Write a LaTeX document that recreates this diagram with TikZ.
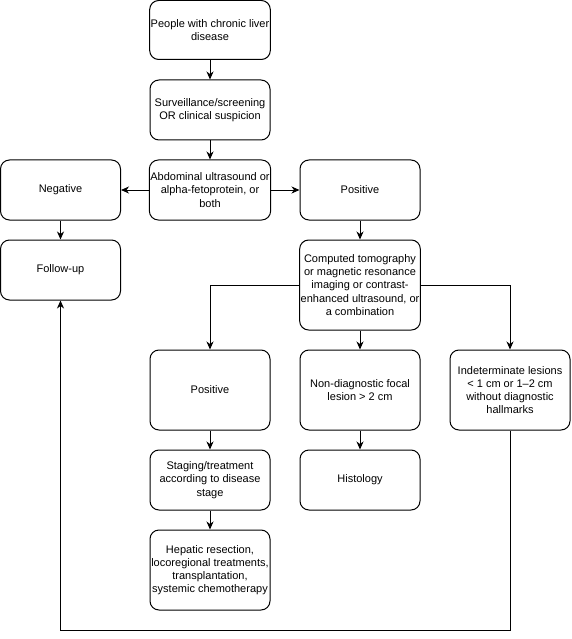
\documentclass[tikz,border=0pt]{standalone}
\usepackage{fontspec}
\setmainfont{Liberation Sans}
\usetikzlibrary{arrows.meta}
\begin{document}
\begin{tikzpicture}[x=1pt,y=-1pt,
 box/.style={draw,line width=1pt,rounded corners=9pt,fill=white,minimum width=120pt,align=center,inner sep=1pt,font=\fontsize{11}{13.2}\selectfont},
 arr/.style={line width=1pt,-{Stealth[length=8pt,width=7pt,inset=2.5pt]}}]
\useasboundingbox (0,0) rectangle (571,639);
\node[box,minimum height=59pt] (n1) at (210,30) {People with chronic liver\\disease};
\node[box,minimum height=60pt] (n2) at (210,110) {Surveillance/screening\\OR clinical suspicion};
\node[box,minimum height=60pt] (n3) at (210,190) {Abdominal ultrasound or\\alpha-fetoprotein, or\\both};
\node[box,minimum height=60pt] (neg) at (60.5,190) {Negative};
\node[box,minimum height=60pt] (pos) at (360,190) {Positive};
\node[box,minimum height=60pt] (fu) at (60.5,270) {Follow-up};
\node[box,minimum height=90pt] (ct) at (360,285) {Computed tomography\\or magnetic resonance\\imaging or contrast-\\enhanced ultrasound, or\\a combination};
\node[box,minimum height=80pt] (pos2) at (210,390) {Positive};
\node[box,minimum height=80pt] (nd) at (360,390) {Non-diagnostic focal\\lesion > 2 cm};
\node[box,minimum height=80pt] (ind) at (510,390) {Indeterminate lesions\\< 1 cm or 1–2 cm\\without diagnostic\\hallmarks};
\node[box,minimum height=60pt] (st) at (210,480) {Staging/treatment\\according to disease\\stage};
\node[box,minimum height=60pt] (hist) at (360,480) {Histology};
\node[box,minimum height=80pt] (hep) at (210,570) {Hepatic resection,\\locoregional treatments,\\transplantation,\\systemic chemotherapy};
\coordinate (bot) at (0,630);
\draw[arr] (n1) -- (n2);
\draw[arr] (n2) -- (n3);
\draw[arr] (n3) -- (neg);
\draw[arr] (n3) -- (pos);
\draw[arr] (neg) -- (fu);
\draw[arr] (pos) -- (ct);
\draw[arr] (ct.west) -| (pos2.north);
\draw[arr] (ct.east) -| (ind.north);
\draw[arr] (ct) -- (nd);
\draw[arr] (pos2) -- (st);
\draw[arr] (st) -- (hep);
\draw[arr] (nd) -- (hist);
\draw[arr] (ind.south) -- (ind.south |- bot) -| (fu.south);
\end{tikzpicture}
\end{document}
